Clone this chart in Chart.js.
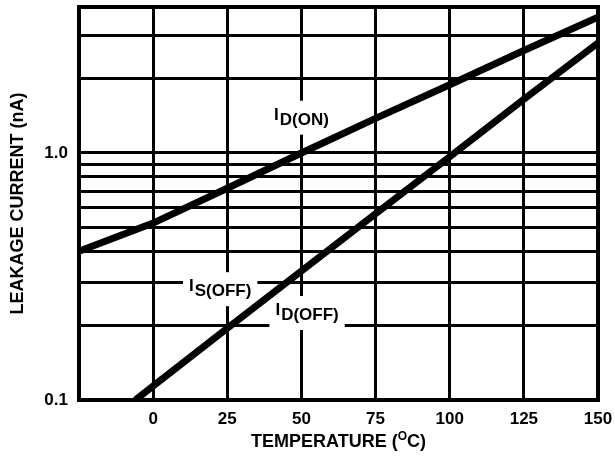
<!DOCTYPE html>
<html>
<head>
<meta charset="utf-8">
<script src="https://cdn.jsdelivr.net/npm/chart.js@4/dist/chart.umd.min.js"></script>
<style>
  html, body { margin: 0; padding: 0; background: #fff; }
  #wrap { width: 615px; height: 460px; }
</style>
</head>
<body>
<div id="wrap"><canvas id="leak"></canvas></div>
<script>
// --- DATA ---
const temps = [-25, 0, 25, 50, 75, 100, 125, 150];
const idOn = [0.40, 0.52, 0.72, 1.0, 1.38, 1.89, 2.6, 3.55];
const offTemps = [-6, 0, 25, 50, 75, 100, 125, 150];
const idOff = [0.1, 0.114, 0.195, 0.333, 0.568, 0.965, 1.65, 2.79];

const xTicks = [-25, 0, 25, 50, 75, 100, 125, 150];
const xLabels = [0, 25, 50, 75, 100, 125, 150];
const yGrid = [0.1, 0.2, 0.3, 0.4, 0.5, 0.6, 0.7, 0.8, 0.9, 1.0, 2, 3];
const yLabels = [0.1, 1.0];

// curve labels: [main, subscript, temp, current]
const curveLabels = [
    ['I', 'D(ON)', 50, 1.39],
    ['I', 'S(OFF)', 22.6, 0.281],
    ['I', 'D(OFF)', 51.9, 0.225]
];

const FONT = '"Liberation Sans", Arial, Helvetica, sans-serif';

// white knock-out boxes + subscripted curve names, drawn over the grid, under the lines
const labelPlugin = {
    id: 'curveLabels',
    beforeDatasetsDraw(chart) {
        const ctx = chart.ctx, xs = chart.scales.x, ys = chart.scales.y;
        ctx.save();
        ctx.font = 'bold 17px ' + FONT;
        curveLabels.forEach(([main, sub, t, v]) => {
            const cx = xs.getPixelForValue(t), cy = ys.getPixelForValue(v);
            const wMain = ctx.measureText(main).width;
            const wSub = ctx.measureText(sub).width;
            const w = wMain + wSub + 1;
            ctx.fillStyle = '#fff';
            ctx.fillRect(cx - w / 2 - 6, cy - 17, w + 12, 34);
            ctx.fillStyle = '#000';
            ctx.textBaseline = 'alphabetic';
            ctx.textAlign = 'left';
            ctx.fillText(main, cx - w / 2, cy + 2);
            ctx.fillText(sub, cx - w / 2 + wMain + 1, cy + 7);
        });
        ctx.restore();
    },
    afterDraw(chart) {
        const ctx = chart.ctx, a = chart.chartArea;
        ctx.save();
        // frame
        ctx.strokeStyle = '#000';
        ctx.lineWidth = 4;
        ctx.strokeRect(a.left, a.top, a.right - a.left, a.bottom - a.top);
        // x title with superscript
        const parts = [['TEMPERATURE (', 18, 0], ['O', 12, -7], ['C)', 18, 0]];
        let total = 0;
        parts.forEach(p => { ctx.font = 'bold ' + p[1] + 'px ' + FONT; total += ctx.measureText(p[0]).width; });
        let x = (a.left + a.right) / 2 - total / 2;
        ctx.fillStyle = '#000';
        ctx.textBaseline = 'alphabetic';
        ctx.textAlign = 'left';
        parts.forEach(p => {
            ctx.font = 'bold ' + p[1] + 'px ' + FONT;
            ctx.fillText(p[0], x, 447 + p[2]);
            x += ctx.measureText(p[0]).width;
        });
        ctx.restore();
    }
};

new Chart(document.getElementById('leak').getContext('2d'), {
    type: 'line',
    data: {
        datasets: [
            { label: 'ID(ON)', data: temps.map((t, i) => ({ x: t, y: idOn[i] })) },
            { label: 'ID(OFF)', data: offTemps.map((t, i) => ({ x: t, y: idOff[i] })) }
        ]
    },
    options: {
        responsive: true,
        maintainAspectRatio: false,
        animation: false,
        devicePixelRatio: 1,
        layout: { padding: { top: 7, right: 17, left: 0, bottom: 0 } },
        elements: {
            line: { borderColor: '#000', borderWidth: 7, tension: 0, fill: false },
            point: { radius: 0 }
        },
        datasets: { line: { clip: 0 } },
        plugins: { legend: { display: false }, tooltip: { enabled: false } },
        scales: {
            x: {
                type: 'linear',
                min: -25, max: 150,
                afterBuildTicks: s => { s.ticks = xTicks.map(v => ({ value: v })); },
                afterFit: s => { s.height = 60; s.paddingLeft = 0; s.paddingRight = 0; },
                grid: { color: '#000', lineWidth: 3, drawTicks: false },
                border: { display: true, color: '#000', width: 4 },
                ticks: {
                    color: '#000', padding: 9, maxRotation: 0,
                    font: { family: FONT, size: 17, weight: 'bold' },
                    callback: v => xLabels.includes(v) ? String(v) : ''
                }
            },
            y: {
                type: 'logarithmic',
                min: 0.1, max: 3.9,
                afterBuildTicks: s => { s.ticks = yGrid.map(v => ({ value: v })); },
                afterFit: s => { s.width = 79; s.paddingTop = 0; s.paddingBottom = 0; },
                grid: { color: '#000', lineWidth: 3, drawTicks: false },
                border: { display: true, color: '#000', width: 4 },
                ticks: {
                    color: '#000', padding: 11,
                    font: { family: FONT, size: 17, weight: 'bold' },
                    callback: v => yLabels.includes(v) ? v.toFixed(1) : ''
                },
                title: {
                    display: true, text: 'LEAKAGE CURRENT (nA)', color: '#000',
                    font: { family: FONT, size: 18, weight: 'bold' },
                    padding: { top: 7, bottom: 0 }
                }
            }
        }
    },
    plugins: [labelPlugin]
});
</script>
</body>
</html>
